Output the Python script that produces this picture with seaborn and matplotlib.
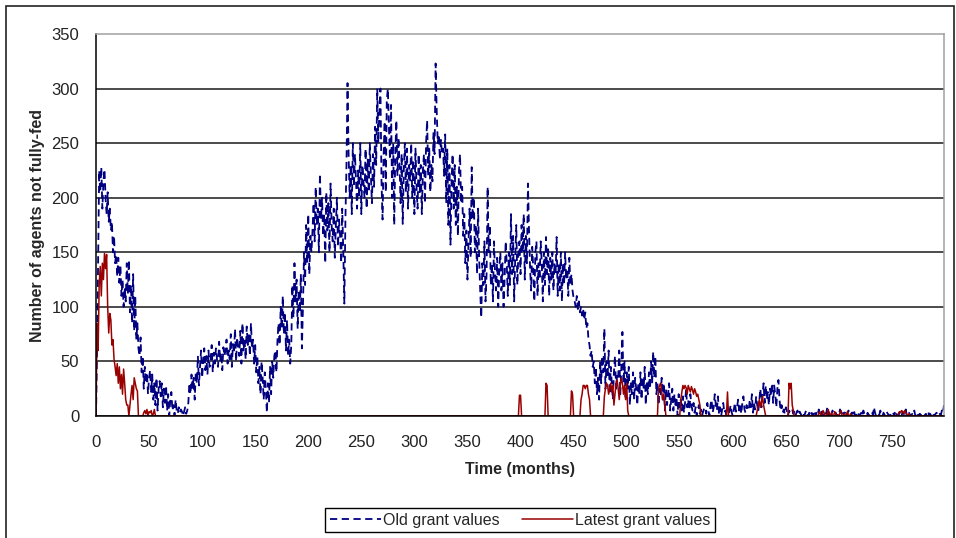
import matplotlib
matplotlib.use('Agg')
import matplotlib.pyplot as plt
import seaborn as sns
from matplotlib.patches import Rectangle

# number of agents not fully-fed, one value per month (0..799)
old_grant = [
    0, 60, 140, 225, 205, 228, 190, 215, 226, 200, 185, 205, 178, 190, 170, 178, 150, 165, 140, 148, 128, 145, 122, 138, 110, 125, 100, 118, 105, 140, 112, 143, 95, 120, 85, 130, 78, 110, 70, 85, 62,
    55, 72, 40, 55, 25, 45, 30, 40, 20, 35, 42, 22, 38, 15, 30, 10, 35, 5, 25, 32, 18, 30, 8, 25, 12, 28, 5, 20, 0, 15, 22, 5, 10, 0, 15, 5, 2, 8, 3, 6, 4,
    0, 4, 8, 2, 5, 12, 30, 20, 38, 25, 35, 15, 40, 30, 55, 28, 45, 60, 35, 50, 62, 42, 55, 38, 60, 45, 52, 65, 40, 58, 48, 62, 52, 45, 68, 50, 58, 42, 63, 55, 60,
    70, 48, 60, 52, 75, 45, 66, 58, 80, 50, 72, 62, 55, 78, 48, 85, 60, 70, 52, 82, 65, 75, 55, 85, 62, 70, 48, 65, 40, 55, 30, 45, 20, 50, 35, 15, 40, 25, 3, 30, 12,
    45, 20, 50, 35, 55, 60, 40, 70, 85, 65, 100, 80, 110, 75, 95, 60, 88, 55, 70, 48, 65, 120, 90, 140, 105, 125, 80, 115, 95, 130, 62, 100, 150, 120, 175, 140, 185, 130, 165, 150, 170,
    195, 160, 210, 175, 190, 150, 222, 180, 200, 165, 185, 140, 205, 170, 195, 150, 213, 175, 160, 190, 145, 175, 200, 155, 180, 165, 140, 190, 150, 103, 180, 230, 305, 240, 200, 230, 185, 250, 210, 240, 215,
    190, 225, 200, 250, 185, 230, 215, 200, 245, 190, 235, 205, 250, 220, 195, 240, 210, 265, 230, 300, 250, 280, 300, 215, 180, 240, 270, 205, 290, 300, 265, 235, 285, 200, 250, 175, 240, 271, 220, 255, 230,
    195, 240, 176, 225, 250, 205, 245, 190, 230, 215, 250, 200, 235, 185, 245, 210, 190, 240, 205, 230, 185, 225, 240, 195, 250, 271, 220, 245, 205, 230, 215, 260, 240, 323, 280, 250, 258, 235, 253, 240, 245,
    220, 258, 195, 245, 175, 230, 157, 215, 240, 190, 230, 175, 210, 165, 225, 240, 195, 210, 165, 185, 140, 170, 125, 160, 190, 145, 228, 180, 200, 150, 175, 130, 190, 145, 115, 90, 140, 120, 160, 105, 130,
    210, 150, 175, 120, 140, 105, 160, 130, 115, 145, 100, 135, 150, 115, 140, 100, 125, 160, 140, 110, 150, 120, 185, 130, 165, 105, 145, 175, 120, 150, 160, 130, 175, 150, 185, 125, 165, 140, 213, 170, 135,
    115, 155, 135, 105, 150, 160, 110, 140, 125, 160, 140, 105, 150, 120, 164, 130, 155, 110, 145, 125, 150, 115, 140, 130, 164, 110, 140, 115, 150, 105, 140, 120, 150, 125, 135, 110, 145, 120, 130, 115, 108,
    105, 100, 110, 98, 105, 95, 100, 92, 98, 88, 95, 80, 85, 70, 65, 55, 60, 45, 50, 30, 45, 20, 35, 15, 50, 30, 55, 40, 80, 25, 50, 35, 60, 20, 45, 30, 15, 40, 55, 25, 38,
    35, 60, 20, 45, 77, 30, 50, 15, 40, 25, 45, 10, 30, 20, 40, 15, 35, 25, 10, 30, 20, 40, 15, 35, 25, 45, 10, 30, 20, 40, 25, 50, 30, 59, 35, 55, 20, 30, 10, 25, 18,
    35, 15, 30, 5, 25, 10, 20, 30, 5, 15, 25, 5, 20, 10, 15, 0, 20, 8, 15, 5, 18, 3, 12, 25, 8, 15, 0, 20, 10, 5, 12, 3, 8, 0, 5, 10, 2, 6, 0, 4, 7,
    8, 2, 12, 5, 0, 10, 15, 3, 8, 20, 10, 5, 18, 2, 8, 0, 6, 12, 3, 5, 0, 8, 2, 5, 10, 3, 0, 6, 12, 4, 8, 15, 5, 10, 2, 12, 18, 6, 3, 10, 6,
    5, 15, 8, 20, 3, 12, 6, 18, 10, 4, 15, 25, 8, 20, 30, 12, 28, 15, 22, 10, 25, 18, 30, 12, 28, 20, 8, 25, 33, 15, 5, 10, 3, 6, 2, 8, 4, 0, 5, 3, 4,
    6, 2, 4, 0, 3, 5, 1, 4, 2, 0, 3, 0, 2, 5, 1, 0, 3, 1, 4, 0, 2, 5, 0, 3, 1, 6, 2, 0, 4, 1, 0, 3, 2, 8, 1, 4, 0, 2, 5, 1, 2,
    3, 0, 2, 1, 6, 2, 0, 3, 1, 4, 0, 2, 5, 1, 0, 3, 2, 6, 1, 0, 2, 4, 0, 1, 3, 0, 5, 2, 1, 0, 3, 1, 0, 2, 4, 1, 8, 3, 0, 2, 1,
    1, 5, 2, 0, 3, 1, 0, 4, 2, 1, 0, 2, 1, 3, 0, 5, 2, 1, 0, 3, 1, 0, 4, 2, 1, 6, 0, 2, 3, 1, 0, 2, 1, 5, 0, 3, 1, 0, 2, 1, 2,
    3, 0, 1, 2, 0, 4, 1, 2, 0, 3, 1, 0, 2, 3, 1, 0, 2, 1, 5, 3, 10,
]

latest_grant = [
    0, 85, 60, 120, 137, 110, 140, 125, 149, 135, 148, 100, 76, 94, 88, 65, 70, 52, 45, 37,
    48, 30, 45, 25, 38, 20, 43, 30, 15, 10, 10, 0, 10, 20, 28, 15, 35, 30, 25, 23,
    0, 0, 0, 0, 0, 3, 5, 2, 6, 0, 4, 3, 5, 0, 2, 6, 0, 0, 0, 0,
    0, 0, 0, 0, 0, 0, 0, 0, 0, 0, 0, 0, 0, 0, 0, 0, 0, 0, 0, 0,
    0, 0, 0, 0, 0, 0, 0, 0, 0, 0, 0, 0, 0, 0, 0, 0, 0, 0, 0, 0,
    0, 0, 0, 0, 0, 0, 0, 0, 0, 0, 0, 0, 0, 0, 0, 0, 0, 0, 0, 0,
    0, 0, 0, 0, 0, 0, 0, 0, 0, 0, 0, 0, 0, 0, 0, 0, 0, 0, 0, 0,
    0, 0, 0, 0, 0, 0, 0, 0, 0, 0, 0, 0, 0, 0, 0, 0, 0, 0, 0, 0,
    0, 0, 0, 0, 0, 0, 0, 0, 0, 0, 0, 0, 0, 0, 0, 0, 0, 0, 0, 0,
    0, 0, 0, 0, 0, 0, 0, 0, 0, 0, 0, 0, 0, 0, 0, 0, 0, 0, 0, 0,
    0, 0, 0, 0, 0, 0, 0, 0, 0, 0, 0, 0, 0, 0, 0, 0, 0, 0, 0, 0,
    0, 0, 0, 0, 0, 0, 0, 0, 0, 0, 0, 0, 0, 0, 0, 0, 0, 0, 0, 0,
    0, 0, 0, 0, 0, 0, 0, 0, 0, 0, 0, 0, 0, 0, 0, 0, 0, 0, 0, 0,
    0, 0, 0, 0, 0, 0, 0, 0, 0, 0, 0, 0, 0, 0, 0, 0, 0, 0, 0, 0,
    0, 0, 0, 0, 0, 0, 0, 0, 0, 0, 0, 0, 0, 0, 0, 0, 0, 0, 0, 0,
    0, 0, 0, 0, 0, 0, 0, 0, 0, 0, 0, 0, 0, 0, 0, 0, 0, 0, 0, 0,
    0, 0, 0, 0, 0, 0, 0, 0, 0, 0, 0, 0, 0, 0, 0, 0, 0, 0, 0, 0,
    0, 0, 0, 0, 0, 0, 0, 0, 0, 0, 0, 0, 0, 0, 0, 0, 0, 0, 0, 0,
    0, 0, 0, 0, 0, 0, 0, 0, 0, 0, 0, 0, 0, 0, 0, 0, 0, 0, 0, 0,
    0, 0, 0, 0, 0, 0, 0, 0, 0, 0, 0, 0, 0, 0, 0, 0, 0, 0, 0, 19,
    19, 0, 0, 0, 0, 0, 0, 0, 0, 0, 0, 0, 0, 0, 0, 0, 0, 0, 0, 0,
    0, 0, 0, 0, 30, 28, 0, 0, 0, 0, 0, 0, 0, 0, 0, 0, 0, 0, 0, 0,
    0, 0, 0, 0, 0, 0, 0, 0, 23, 20, 0, 0, 0, 0, 0, 0, 0, 15, 20, 28,
    28, 25, 28, 28, 20, 15, 0, 0, 0, 0, 0, 0, 0, 0, 0, 0, 0, 0, 0, 18,
    25, 30, 28, 20, 25, 30, 22, 28, 10, 20, 30, 33, 25, 15, 28, 35, 30, 20, 28, 15,
    30, 5, 0, 0, 0, 0, 0, 0, 0, 0, 0, 0, 0, 0, 0, 0, 0, 0, 0, 0,
    0, 0, 0, 0, 0, 0, 0, 0, 0, 0, 25, 28, 30, 22, 15, 20, 10, 0, 0, 0,
    0, 0, 0, 0, 0, 0, 0, 0, 0, 0, 0, 15, 22, 28, 25, 28, 26, 20, 28, 25,
    22, 27, 24, 20, 25, 22, 18, 20, 15, 10, 0, 0, 0, 0, 0, 0, 0, 0, 0, 0,
    0, 0, 0, 0, 0, 0, 0, 0, 0, 0, 0, 0, 0, 0, 0, 22, 0, 0, 0, 0,
    0, 0, 0, 0, 0, 0, 0, 0, 0, 0, 0, 0, 0, 0, 0, 0, 0, 0, 0, 0,
    0, 0, 0, 5, 10, 15, 8, 12, 18, 10, 5, 0, 0, 0, 0, 0, 0, 0, 0, 0,
    0, 0, 0, 0, 0, 0, 0, 0, 0, 0, 0, 0, 0, 30, 25, 30, 10, 5, 0, 0,
    0, 0, 0, 0, 0, 0, 0, 0, 0, 0, 0, 0, 0, 0, 0, 0, 0, 0, 0, 0,
    0, 2, 4, 0, 1, 5, 3, 0, 0, 2, 6, 1, 0, 3, 0, 0, 4, 2, 0, 1,
    0, 3, 5, 0, 0, 2, 0, 1, 4, 0, 0, 2, 0, 0, 0, 0, 0, 0, 0, 0,
    0, 0, 0, 0, 0, 0, 0, 0, 0, 0, 0, 0, 0, 0, 0, 0, 0, 0, 0, 0,
    0, 0, 0, 0, 0, 0, 0, 0, 0, 0, 0, 0, 0, 0, 0, 0, 2, 4, 3, 5,
    4, 2, 5, 3, 1, 0, 2, 0, 0, 0, 0, 0, 0, 0, 0, 0, 0, 0, 0, 0,
    0, 0, 0, 0, 0, 0, 0, 0, 0, 0, 0, 0, 0, 0, 0, 0, 0, 0, 0, 0,
]

months = list(range(len(old_grant)))
x_ticks = list(range(0, 800, 50))
y_ticks = list(range(0, 351, 50))

sns.set_style('white')
plt.rcParams['font.family'] = ['Liberation Sans', 'DejaVu Sans']

fig = plt.figure(figsize=(9.56, 5.38), dpi=100)
fig.patches.append(Rectangle((6 / 956, -0.05), 948 / 956, 1.05 - 6 / 538, transform=fig.transFigure,
                             fill=False, edgecolor='#222222', lw=1.2))
ax = fig.add_axes([96 / 956, 1 - 416 / 538, 848 / 956, 382 / 538])

sns.lineplot(x=months, y=old_grant, ax=ax, color='#000080', lw=1.3, linestyle=(0, (4, 2.5)),
             estimator=None, label='Old grant values')
sns.lineplot(x=months, y=latest_grant, ax=ax, color='#990000', lw=1.1,
             estimator=None, label='Latest grant values')

ax.set_xlim(0, 799)
ax.set_ylim(0, 350)
ax.set_xticks(x_ticks)
ax.set_yticks(y_ticks)
ax.grid(axis='y', color='#1a1a1a', lw=1.1)
ax.get_ygridlines()[-1].set_visible(False)
ax.tick_params(axis='y', length=4, width=1, color='black', direction='out', pad=8, labelsize=12, labelcolor='#222222')
ax.tick_params(axis='x', length=0, pad=14, labelsize=12, labelcolor='#222222')
for side in ['left', 'bottom']:
    ax.spines[side].set_color('black')
    ax.spines[side].set_linewidth(1.1)
for side in ['top', 'right']:
    ax.spines[side].set_color('#a0a0a0')
    ax.spines[side].set_linewidth(1.1)

ax.set_xlabel('Time (months)', fontsize=11.5, fontweight='bold', labelpad=8)
ax.set_ylabel('Number of agents not fully-fed', fontsize=11.5, fontweight='bold', labelpad=5)

handles, labels = ax.get_legend_handles_labels()
ax.get_legend().remove()
leg = fig.legend(handles, labels, loc='center', bbox_to_anchor=(520 / 956, 1 - 520 / 538), ncol=2,
                 fontsize=11.5, frameon=True, fancybox=False, edgecolor='black', framealpha=1,
                 handlelength=3.2, handletextpad=0.1, columnspacing=1.4, borderpad=0.3)
leg.get_frame().set_linewidth(1.0)

fig.savefig('out.png', dpi=100)
